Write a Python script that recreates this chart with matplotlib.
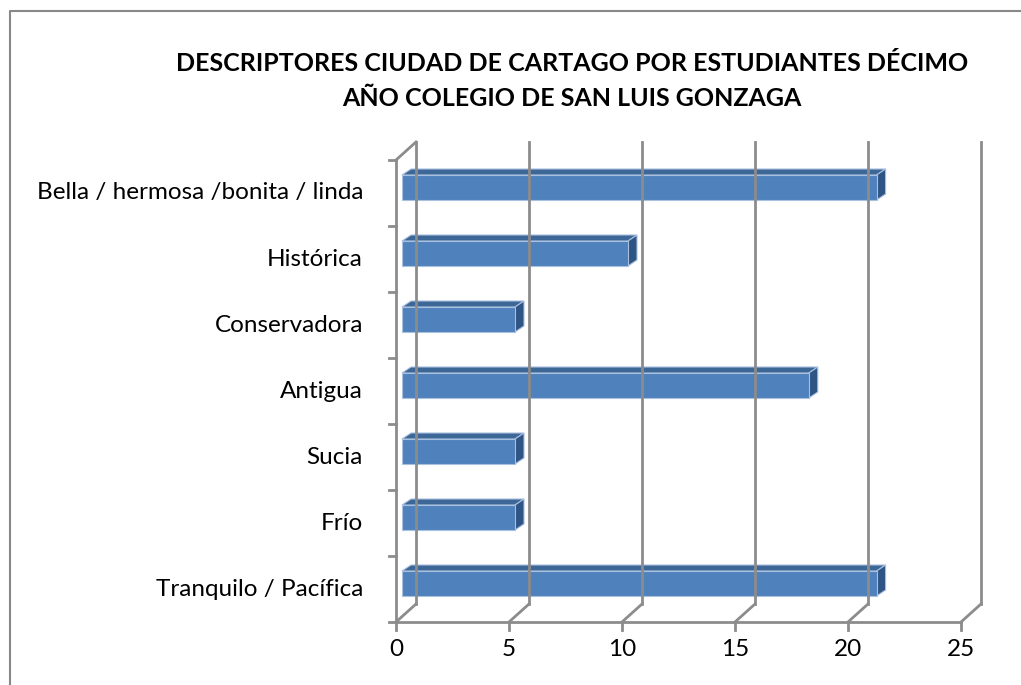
import matplotlib
matplotlib.use("Agg")
import matplotlib.pyplot as plt
from matplotlib.patches import Polygon
from matplotlib.lines import Line2D
from matplotlib.transforms import IdentityTransform, ScaledTranslation

# data, bottom to top as drawn
categories = ["Tranquilo / Pacífica", "Frío", "Sucia", "Antigua",
              "Conservadora", "Histórica", "Bella / hermosa /bonita / linda"]
values = [21, 5, 5, 18, 5, 10, 21]
x_ticks = [0, 5, 10, 15, 20, 25]
title = ("DESCRIPTORES CIUDAD DE CARTAGO POR ESTUDIANTES DÉCIMO\n"
         "AÑO COLEGIO DE SAN LUIS GONZAGA")

plt.rcParams['font.family'] = ['Lato', 'DejaVu Sans']

W, H = 1021, 685
fig = plt.figure(figsize=(W / 100, H / 100), dpi=100)
ax = fig.add_axes([396 / W, 1 - 622 / H, (961 - 396) / W, (622 - 160) / H])
ax.set_xlim(0, 25)
ax.set_ylim(0, len(categories))
ax.axis('off')

grid_col = '#8c8c8c'
wall_dx, wall_dy = 20, 18      # depth of the 3d box, pixels
bar_dx, bar_dy = 9, 6          # depth of each bar
bar_off = (6, 5.5)             # bars sit a little behind the front plane
bar_half = 12.5


def px(x, y, dx=0, dy=0):
    X, Y = ax.transData.transform((x, y))
    return X + dx, Y + dy


def seg(p, q, **kw):
    ax.add_line(Line2D([p[0], q[0]], [p[1], q[1]], transform=IdentityTransform(),
                       color=grid_col, lw=2, clip_on=False, **kw))


ytop = len(categories)
# back wall gridlines + floor slants + front ticks
for t in x_ticks:
    seg(px(t, 0, wall_dx, wall_dy), px(t, ytop, wall_dx, wall_dy))
    seg(px(t, 0), px(t, 0, wall_dx, wall_dy))
    seg(px(t, 0), px(t, 0, 0, -8))
seg(px(0, 0), px(25, 0))
seg(px(0, 0), px(0, ytop))
seg(px(0, ytop), px(0, ytop, wall_dx, wall_dy))
for k in range(ytop + 1):
    seg(px(0, k), px(0, k, -7, 0))

# bars
for i, v in enumerate(values):
    x0, yc = px(0, i + 0.5, *bar_off)
    x1, _ = px(v, i + 0.5, *bar_off)
    y0, y1 = yc - bar_half, yc + bar_half
    face = [(x0, y0), (x1, y0), (x1, y1), (x0, y1)]
    top = [(x0, y1), (x1, y1), (x1 + bar_dx, y1 + bar_dy), (x0 + bar_dx, y1 + bar_dy)]
    side = [(x1, y0), (x1 + bar_dx, y0 + bar_dy), (x1 + bar_dx, y1 + bar_dy), (x1, y1)]
    for poly, col in [(top, '#3d6797'), (side, '#2f5585'), (face, '#4f81bd')]:
        ax.add_patch(Polygon(poly, closed=True, transform=IdentityTransform(),
                             facecolor=col, edgecolor='#a9c0df', lw=0.8,
                             clip_on=False, joinstyle='miter'))

# labels
lab_shift = ax.transData + ScaledTranslation(-33 / 100, 0, fig.dpi_scale_trans)
for i, c in enumerate(categories):
    ax.text(0, i + 0.5, c, transform=lab_shift, ha='right', va='center',
            fontsize=17.5, color='black')
tick_shift = ax.transData + ScaledTranslation(0, -28 / 100, fig.dpi_scale_trans)
for t in x_ticks:
    ax.text(t, 0, str(t), transform=tick_shift, ha='center', va='center',
            fontsize=17.5, color='black')

fig.text(572 / W, 1 - 81 / H, title, ha='center', va='center', fontsize=18,
         fontweight='bold', linespacing=1.6)

# chart border (left and top edges only visible)
fig.add_artist(Line2D([10 / W, 10 / W, 1], [0, 1 - 11 / H, 1 - 11 / H],
                      transform=fig.transFigure, color='#888888', lw=1.5))

fig.savefig('out.png', dpi=100)
